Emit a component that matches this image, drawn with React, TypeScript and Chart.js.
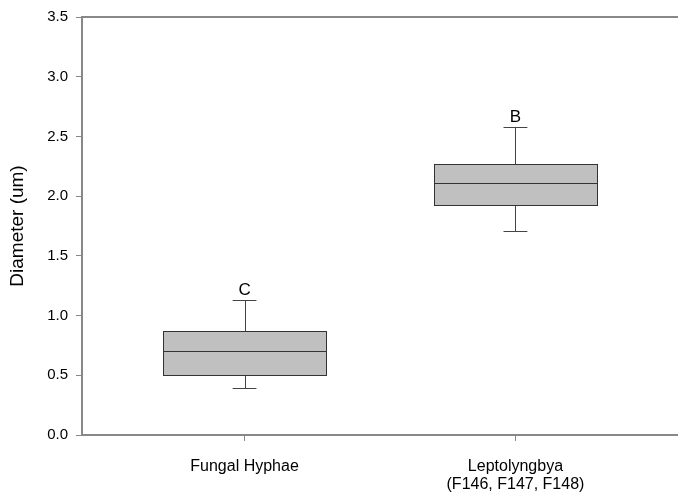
import React, { useEffect, useRef } from "react";
import { Chart, registerables } from "chart.js";

Chart.register(...registerables);

const categories: (string | string[])[] = ["Fungal Hyphae", ["Leptolyngbya", "(F146, F147, F148)"]];
const positions = [1, 2];
const whiskerLow = [0.394, 1.707];
const q1 = [0.5, 1.922];
const median = [0.7, 2.113];
const q3 = [0.872, 2.272];
const whiskerHigh = [1.128, 2.575];
const letters = ["C", "B"];
const yTicks = [0, 0.5, 1, 1.5, 2, 2.5, 3, 3.5];

const FONT = "'Liberation Sans', Arial, sans-serif";
const BOX_WIDTH = 0.6;
const CAP_WIDTH = 0.088;

const boxPlugin = {
  id: "boxes",
  afterDatasetsDraw(chart: any) {
    const { ctx, scales, chartArea } = chart;
    const xs = scales.x;
    const ys = scales.y;
    ctx.save();
    // top frame line
    ctx.strokeStyle = "#888888";
    ctx.lineWidth = 2;
    ctx.beginPath();
    ctx.moveTo(chartArea.left, chartArea.top);
    ctx.lineTo(chartArea.right, chartArea.top);
    ctx.stroke();

    positions.forEach((p, i) => {
      const xl = Math.round(xs.getPixelForValue(p - BOX_WIDTH / 2)) + 0.5;
      const xr = Math.round(xs.getPixelForValue(p + BOX_WIDTH / 2)) + 0.5;
      const xc = Math.round(xs.getPixelForValue(p)) + 0.5;
      const cl = xs.getPixelForValue(p - CAP_WIDTH / 2);
      const cr = xs.getPixelForValue(p + CAP_WIDTH / 2);
      const yq1 = Math.round(ys.getPixelForValue(q1[i])) + 0.5;
      const yq3 = Math.round(ys.getPixelForValue(q3[i])) + 0.5;
      const ym = Math.round(ys.getPixelForValue(median[i])) + 0.5;
      const ylo = Math.round(ys.getPixelForValue(whiskerLow[i])) + 0.5;
      const yhi = Math.round(ys.getPixelForValue(whiskerHigh[i])) + 0.5;

      ctx.lineWidth = 1;
      ctx.strokeStyle = "#444444";
      // whiskers
      ctx.beginPath();
      ctx.moveTo(xc, yq3);
      ctx.lineTo(xc, yhi);
      ctx.moveTo(cl, yhi);
      ctx.lineTo(cr, yhi);
      ctx.moveTo(xc, yq1);
      ctx.lineTo(xc, ylo);
      ctx.moveTo(cl, ylo);
      ctx.lineTo(cr, ylo);
      ctx.stroke();

      // box
      ctx.fillStyle = "#c0c0c0";
      ctx.fillRect(xl, yq3, xr - xl, yq1 - yq3);
      ctx.strokeStyle = "#333333";
      ctx.strokeRect(xl, yq3, xr - xl, yq1 - yq3);
      ctx.beginPath();
      ctx.moveTo(xl, ym);
      ctx.lineTo(xr, ym);
      ctx.stroke();

      // letter
      ctx.fillStyle = "#000000";
      ctx.font = `17px ${FONT}`;
      ctx.textAlign = "center";
      ctx.textBaseline = "alphabetic";
      ctx.fillText(letters[i], xs.getPixelForValue(p), yhi - 6);
    });
    ctx.restore();
  },
};

export default function App() {
  const ref = useRef<HTMLCanvasElement>(null);
  useEffect(() => {
    if (!ref.current) return;
    const chart = new Chart(ref.current, {
      type: "scatter",
      data: {
        datasets: [
          {
            data: positions.map((p, i) => ({ x: p, y: median[i] })),
            pointRadius: 0,
            showLine: false,
          },
        ],
      },
      plugins: [boxPlugin],
      options: {
        animation: false,
        responsive: false,
        layout: { padding: { top: 15, right: 0, left: 0, bottom: 0 } },
        plugins: { legend: { display: false }, tooltip: { enabled: false } },
        scales: {
          x: {
            type: "linear",
            min: 0.4,
            max: 2.6,
            afterBuildTicks: (s: any) => {
              s.ticks = positions.map((v) => ({ value: v }));
            },
            afterFit: (s: any) => {
              s.height = 63;
            },
            ticks: {
              autoSkip: false,
              maxRotation: 0,
              padding: 16,
              color: "#000000",
              font: { family: FONT, size: 16, lineHeight: 1.15 },
              callback: (v: any) => {
                const idx = positions.indexOf(Number(v));
                return idx >= 0 ? categories[idx] : "";
              },
            },
            grid: {
              drawOnChartArea: false,
              drawTicks: true,
              tickLength: 6,
              color: "#888888",
            },
            border: { color: "#888888", width: 2 },
          },
          y: {
            min: 0,
            max: 3.5,
            afterBuildTicks: (s: any) => {
              s.ticks = yTicks.map((v) => ({ value: v }));
            },
            afterFit: (s: any) => {
              s.width = 82;
            },
            ticks: {
              padding: 8,
              color: "#000000",
              font: { family: FONT, size: 15 },
              callback: (v: any) => Number(v).toFixed(1),
            },
            grid: {
              drawOnChartArea: false,
              drawTicks: true,
              tickLength: 6,
              color: "#888888",
            },
            border: { color: "#888888", width: 2 },
            title: {
              display: true,
              text: "Diameter (um)",
              color: "#000000",
              font: { family: FONT, size: 19 },
              padding: { top: 6, bottom: 0 },
            },
          },
        },
      },
    } as any);
    return () => chart.destroy();
  }, []);
  return (
    <div style={{ position: "absolute", left: 0, top: 0, width: 678, height: 498, background: "#ffffff" }}>
      <canvas ref={ref} width={678} height={498} style={{ width: 678, height: 498 }} />
    </div>
  );
}
